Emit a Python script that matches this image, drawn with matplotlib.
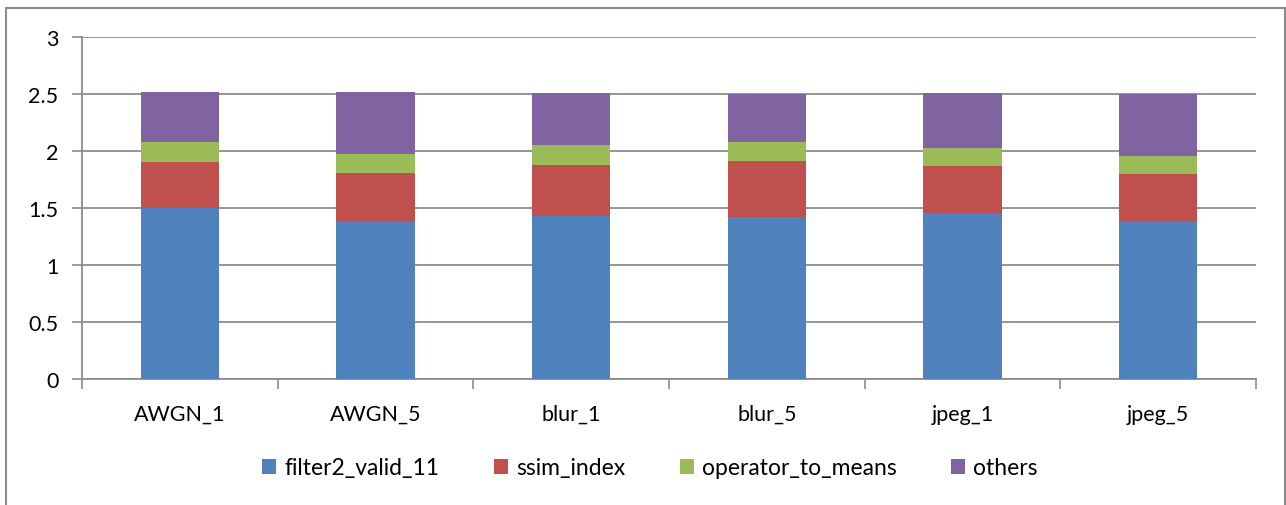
import numpy as np
import matplotlib.pyplot as plt
from matplotlib.patches import Rectangle

categories = ['AWGN_1', 'AWGN_5', 'blur_1', 'blur_5', 'jpeg_1', 'jpeg_5']
filter2_valid_11 = [1.50, 1.39, 1.43, 1.42, 1.46, 1.39]
ssim_index = [0.40, 0.42, 0.45, 0.49, 0.41, 0.41]
operator_to_means = [0.18, 0.16, 0.17, 0.17, 0.16, 0.16]
others = [0.44, 0.55, 0.46, 0.42, 0.48, 0.54]

series = [
    ('filter2_valid_11', filter2_valid_11, '#4F81BD'),
    ('ssim_index', ssim_index, '#C0504D'),
    ('operator_to_means', operator_to_means, '#9BBB59'),
    ('others', others, '#8064A2'),
]

plt.rcParams['font.family'] = ['Lato', 'DejaVu Sans']

W, H = 1286, 506
fig = plt.figure(figsize=(W / 100, H / 100), dpi=100)
# chart area border (bottom edge is cut off in the reference)
fig.patches.append(Rectangle((5.5 / W, -0.01), (1284.5 - 5.5) / W, (H - 8.5) / H + 0.01,
                             transform=fig.transFigure, fill=False,
                             edgecolor='#8c8c8c', linewidth=1.5))

ax = fig.add_axes([82 / W, 1 - 380 / H, (1256 - 82) / W, (380 - 38) / H])

x = np.arange(len(categories))
bottom = np.zeros(len(categories))
for name, vals, color in series:
    ax.bar(x, vals, width=0.4, bottom=bottom, color=color, label=name, zorder=3)
    bottom += np.array(vals)

ax.set_xlim(-0.5, len(categories) - 0.5)
ax.set_ylim(0, 3)
ax.set_yticks(np.arange(0, 3.01, 0.5))
ax.set_yticklabels(['0', '0.5', '1', '1.5', '2', '2.5', '3'])
ax.yaxis.grid(True, color='#8c8c8c', linewidth=1.3, zorder=0)

ax.set_xticks(x)
ax.set_xticklabels(categories)
ax.set_xticks(np.arange(-0.5, len(categories)), minor=True)
ax.tick_params(axis='x', which='major', length=0, pad=18, labelsize=15.5)
ax.tick_params(axis='x', which='minor', length=7, width=1.2, color='#8c8c8c', direction='out')
ax.tick_params(axis='y', length=7, width=1.2, color='#8c8c8c', direction='out', pad=10, labelsize=15.5)

for s in ['top', 'right']:
    ax.spines[s].set_visible(False)
for s in ['left', 'bottom']:
    ax.spines[s].set_color('#8c8c8c')
    ax.spines[s].set_linewidth(1.3)

fig.legend(loc='center', bbox_to_anchor=(650 / W, 1 - 469 / H), ncol=4,
           frameon=False, fontsize=16.5, handlelength=0.6, handleheight=0.6,
           handletextpad=0.35, columnspacing=2.4)

fig.savefig('out.png', dpi=100)
